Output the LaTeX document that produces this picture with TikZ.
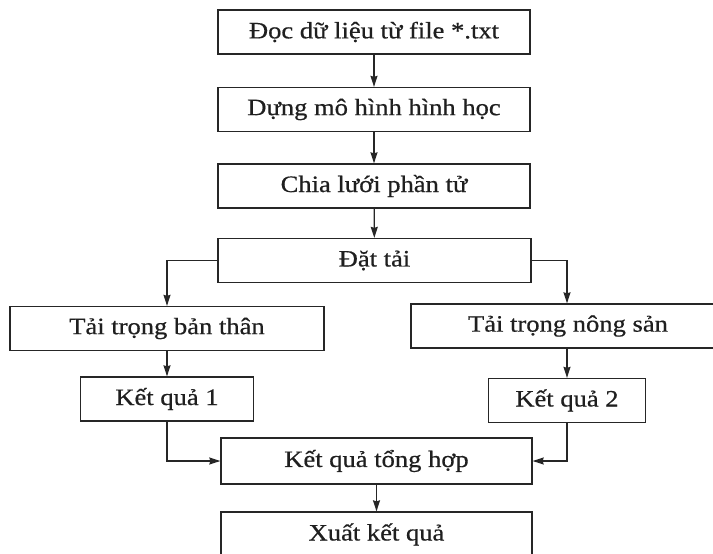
\documentclass[tikz,border=0pt]{standalone}
\usepackage{fontspec}
\setmainfont{Liberation Serif}[FakeStretch=1.13,FakeBold=0.6]
\usetikzlibrary{arrows.meta}
\begin{document}
\begin{tikzpicture}[x=1pt,y=1pt,
  box/.style={draw=black!85, line width=1.3pt, fill=white, inner sep=0pt,
    minimum height=44pt, font=\fontsize{23.5}{27}\selectfont, text=black!88},
  conn/.style={draw=black!85, line width=1.3pt, -{Stealth[length=11pt,width=7pt,inset=1pt]}}]
\useasboundingbox (0,0) rectangle (713,-554);
\fill[white] (0,0) rectangle (713,-554);
\node[box, minimum width=312pt] (n1) at (374,-32) {Đọc dữ liệu từ file *.txt};
\node[box, minimum width=312pt] (n2) at (374,-109.5) {Dựng mô hình hình học};
\node[box, minimum width=312pt] (n3) at (374,-186) {Chia lưới phần tử};
\node[box, minimum width=313pt] (n4) at (374.5,-260.5) {Đặt tải};
\node[box, minimum width=314pt] (n5) at (167,-328.5) {Tải trọng bản thân};
\node[box, minimum width=314pt] (n6) at (568,-326) {Tải trọng nông sản};
\node[box, minimum width=173pt] (n7) at (167,-399) {Kết quả 1};
\node[box, minimum width=157pt] (n8) at (567,-400.5) {Kết quả 2};
\node[box, minimum width=311pt, minimum height=46pt] (n9) at (376.5,-461) {Kết quả tổng hợp};
\node[box, minimum width=311pt, minimum height=45pt] (n10) at (376.5,-534.5) {Xuất kết quả};
\draw[conn] (n1) -- (n2);
\draw[conn] (n2) -- (n3);
\draw[conn] (n3) -- (n4);
\draw[conn] (n4.west) -| (n5.north);
\draw[conn] (n4.east) -| (n6.north -| n8);
\draw[conn] (n5) -- (n7);
\draw[conn] (n6.south -| n8) -- (n8.north);
\draw[conn] (n7.south) |- (n9.west);
\draw[conn] (n8.south) |- (n9.east);
\draw[conn] (n9) -- (n10);
\end{tikzpicture}
\end{document}
